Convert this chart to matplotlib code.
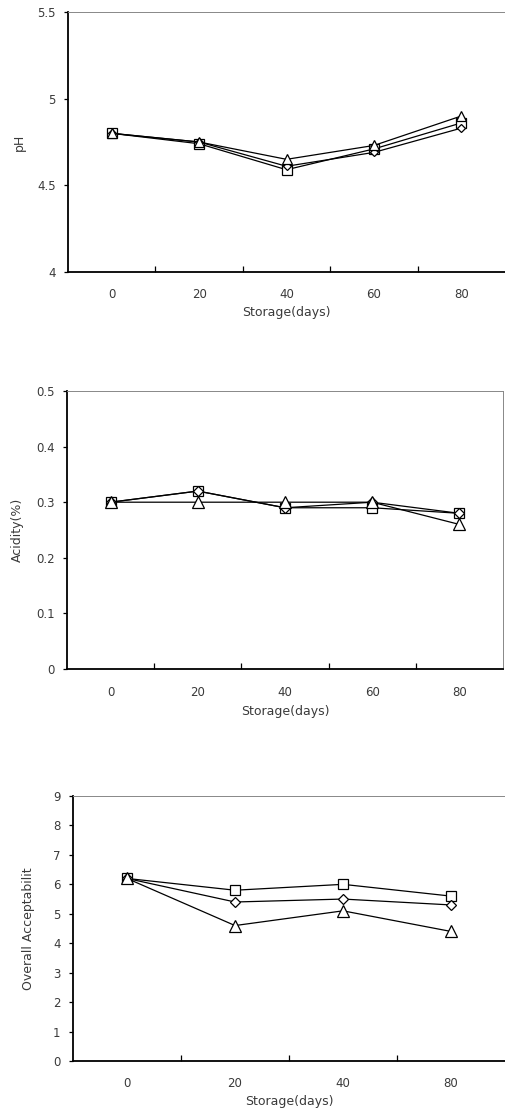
import matplotlib
matplotlib.use("Agg")
import matplotlib.pyplot as plt

plt.rcParams['font.family'] = ['DejaVu Sans']

# storage days (category labels)
days_ab = ["0", "20", "40", "60", "80"]
days_c = ["0", "20", "40", "80"]

# pH
ph_sq = [4.80, 4.74, 4.59, 4.71, 4.86]
ph_di = [4.80, 4.75, 4.61, 4.69, 4.83]
ph_tr = [4.80, 4.75, 4.65, 4.73, 4.90]

# acidity (%)
ac_sq = [0.30, 0.32, 0.29, 0.29, 0.28]
ac_di = [0.30, 0.32, 0.29, 0.30, 0.28]
ac_tr = [0.30, 0.30, 0.30, 0.30, 0.26]

# overall acceptability
oa_sq = [6.2, 5.8, 6.0, 5.6]
oa_di = [6.2, 5.4, 5.5, 5.3]
oa_tr = [6.2, 4.6, 5.1, 4.4]

W, H = 506, 1113
fig = plt.figure(figsize=(W / 100, H / 100), dpi=100)
txt = '#3a3a3a'


def panel(rect, labels, series, ylim, yticks, yticklabels, ylabel, ylab_x):
    ax = fig.add_axes(rect)
    x = list(range(len(labels)))
    for vals, mk, ms in series:
        ax.plot(x, vals, color='black', lw=0.9, marker=mk, ms=ms,
                mfc='white', mec='black', mew=0.9, zorder=3)
    ax.set_xlim(-0.5, len(labels) - 0.5)
    ax.set_ylim(*ylim)
    # category boundaries carry the tick marks, labels sit between them
    ax.set_xticks([i + 0.5 for i in range(len(labels) - 1)])
    ax.set_xticklabels([])
    ax.tick_params(axis='x', direction='in', length=4, width=0.9, color='black')
    for i, lab in enumerate(labels):
        ax.text(i, -0.06, lab, transform=ax.get_xaxis_transform(),
                ha='center', va='top', fontsize=8.5, color=txt)
    ax.set_yticks(yticks)
    ax.set_yticklabels(yticklabels, fontsize=8.5, color=txt)
    ax.tick_params(axis='y', direction='out', length=3, width=0.9, pad=6)
    ax.text(0.5, -0.13, 'Storage(days)', transform=ax.transAxes,
            ha='center', va='top', fontsize=9, color=txt)
    fig.text(ylab_x / W, rect[1] + rect[3] / 2, ylabel, rotation=90,
             ha='center', va='center', fontsize=9, color=txt)
    ax.spines['left'].set_linewidth(1.3)
    ax.spines['bottom'].set_linewidth(1.3)
    ax.spines['top'].set_color('#888888')
    ax.spines['right'].set_color('#888888')
    ax.spines['top'].set_linewidth(0.7)
    ax.spines['right'].set_linewidth(0.7)
    return ax


panel([68 / W, 1 - 272 / H, 437 / W, 260 / H], days_ab,
      [(ph_sq, 's', 6.5), (ph_di, 'D', 4.5), (ph_tr, '^', 7)],
      (4, 5.5), [4, 4.5, 5, 5.5], ['4', '4.5', '5', '5.5'], 'pH', 19)

panel([67 / W, 1 - 669 / H, 436 / W, 278 / H], days_ab,
      [(ac_sq, 's', 7), (ac_di, 'D', 5), (ac_tr, '^', 8)],
      (0, 0.5), [0, 0.1, 0.2, 0.3, 0.4, 0.5],
      ['0', '0.1', '0.2', '0.3', '0.4', '0.5'], 'Acidity(%)', 17)

panel([73 / W, 1 - 1061 / H, 432 / W, 265 / H], days_c,
      [(oa_sq, 's', 7.5), (oa_di, 'D', 5), (oa_tr, '^', 8)],
      (0, 9), list(range(10)), [str(i) for i in range(10)],
      'Overall Acceptabilit', 29)

fig.savefig('out.png', dpi=100)
